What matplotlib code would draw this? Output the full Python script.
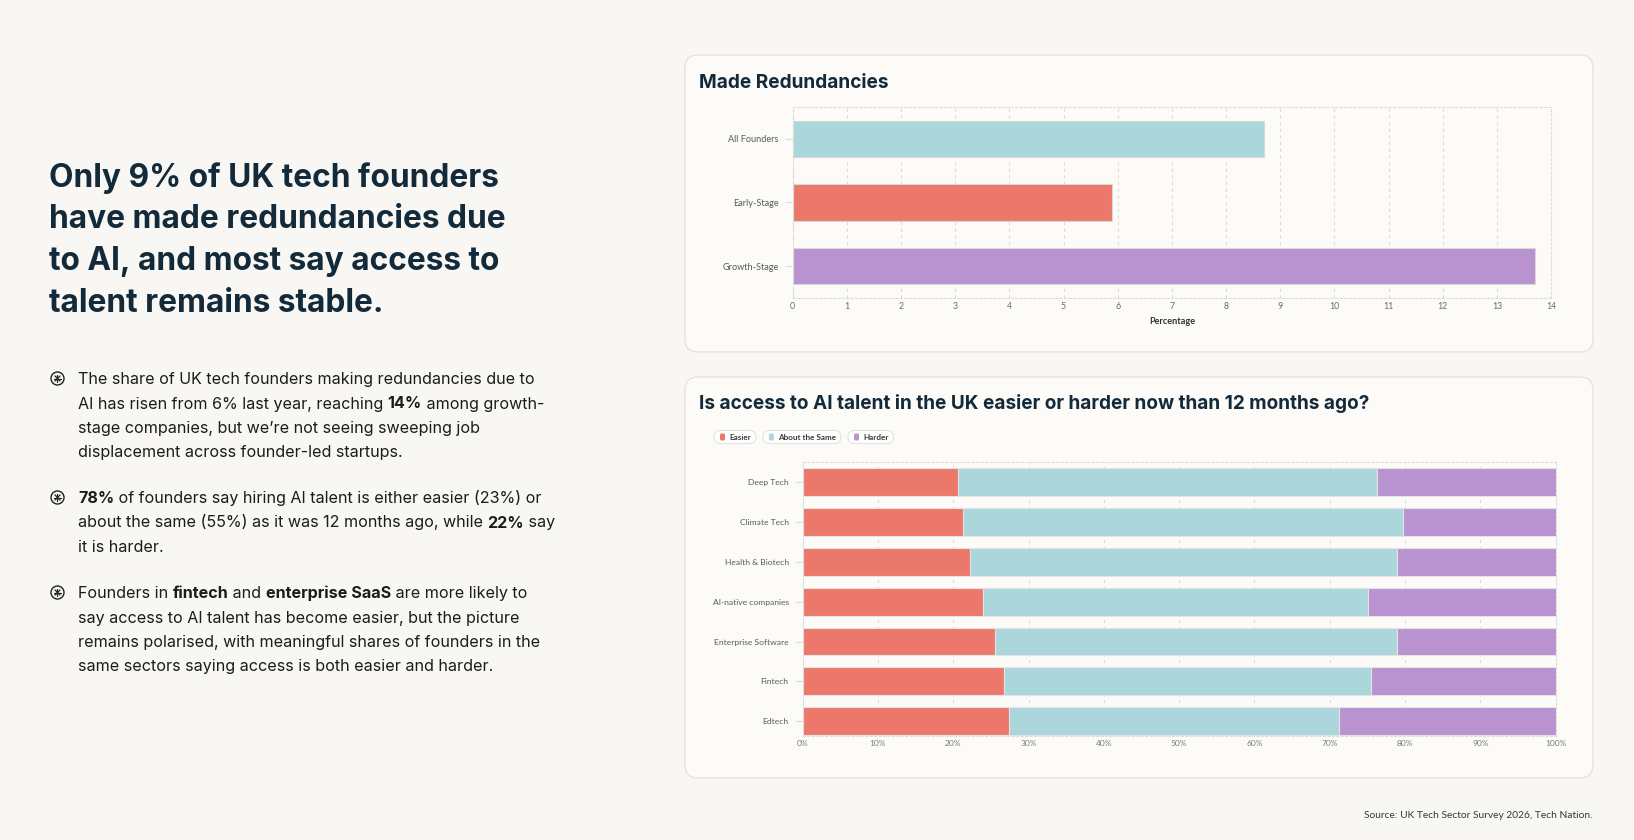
import matplotlib
matplotlib.use("Agg")
import matplotlib.pyplot as plt
from matplotlib.patches import FancyBboxPatch, Circle
import numpy as np

# ---------------- data ----------------
redund_labels = ["All Founders", "Early-Stage", "Growth-Stage"]
redund_values = [8.7, 5.9, 13.7]
redund_ticks = list(range(0, 15))

sectors = ["Deep Tech", "Climate Tech", "Health & Biotech", "AI-native companies",
           "Enterprise Software", "Fintech", "Edtech"]
easier = [20.7, 21.3, 22.2, 23.9, 25.5, 26.7, 27.4]
same = [55.6, 58.4, 56.7, 51.2, 53.5, 48.8, 43.8]
harder = [23.7, 20.3, 21.1, 24.9, 21.0, 24.5, 28.8]
series_names = ["Easier", "About the Same", "Harder"]
pct_ticks = list(range(0, 101, 10))

heading = ["Only 9% of UK tech founders",
           "have made redundancies due",
           "to AI, and most say access to",
           "talent remains stable."]
bullets = [
    ["The share of UK tech founders making redundancies due to",
     "AI has risen from 6% last year, reaching **14%** among growth-",
     "stage companies, but we\u2019re not seeing sweeping job",
     "displacement across founder-led startups."],
    ["**78%** of founders say hiring AI talent is either easier (23%) or",
     "about the same (55%) as it was 12 months ago, while **22%** say",
     "it is harder."],
    ["Founders in **fintech** and **enterprise SaaS** are more likely to",
     "say access to AI talent has become easier, but the picture",
     "remains polarised, with meaningful shares of founders in the",
     "same sectors saying access is both easier and harder."],
]
source = "Source: UK Tech Sector Survey 2026, Tech Nation."

# ---------------- style ----------------
RED = "#EC786C"
BLUE = "#AAD6DC"
PURPLE = "#B893D0"
series_colors = [RED, BLUE, PURPLE]
NAVY = "#132A3B"
PAGE = "#F8F7F3"
CARD = "#FCFBF8"
GRID = "#DEDCD8"
SMALL = ["Lato", "DejaVu Sans"]
BIG = ["Inter", "DejaVu Sans"]
plt.rcParams["font.family"] = SMALL

W, H = 1634, 840
fig = plt.figure(figsize=(W / 100, H / 100), dpi=100, facecolor=PAGE)

bg = fig.add_axes([0, 0, 1, 1], zorder=0)
bg.set_xlim(0, W)
bg.set_ylim(H, 0)
bg.axis("off")


def px_rect(x0, y0, x1, y1):
    return [x0 / W, 1 - y1 / H, (x1 - x0) / W, (y1 - y0) / H]


# cards
for (x0, y0, x1, y1) in [(685, 55, 1593, 352), (685, 377, 1593, 778)]:
    bg.add_patch(FancyBboxPatch((x0, y0), x1 - x0, y1 - y0,
                                boxstyle="round,pad=0,rounding_size=13",
                                facecolor=CARD, edgecolor="#E6E3DC", lw=1.0))

# heading
for i, line in enumerate(heading):
    bg.text(49, 187 + i * 41.5, line, fontsize=22.8, fontweight="bold",
            color=NAVY, va="baseline", ha="left", family=BIG)

renderer = fig.canvas.get_renderer()


def rich_line(x, y, s, size, color):
    parts = s.split("**")
    for k, part in enumerate(parts):
        if not part:
            continue
        t = bg.text(x, y, part, fontsize=size,
                    fontweight="bold" if k % 2 == 1 else "normal",
                    color=color, va="baseline", ha="left", family=BIG)
        x += t.get_window_extent(renderer=renderer).width


para_starts = [384, 503, 598]
LS = 24.5
for p, lines in enumerate(bullets):
    y0 = para_starts[p]
    cx, cy = 57.5, y0 - 5.5
    bg.add_patch(Circle((cx, cy), 6.5, facecolor="none", edgecolor="#222222", lw=1.0))
    for ang in np.arange(0, 180, 45):
        a = np.deg2rad(ang)
        dx, dy = 3.6 * np.cos(a), 3.6 * np.sin(a)
        bg.plot([cx - dx, cx + dx], [cy - dy, cy + dy], color="#222222", lw=0.9,
                solid_capstyle="round")
    for i, line in enumerate(lines):
        rich_line(78, y0 + i * LS, line, 11.6, "#1C1C1C")

# source
bg.text(1593, 816, source, fontsize=7.4, color="#2E3A46", ha="right", va="center")

# card titles
bg.text(699, 87.5, "Made Redundancies", fontsize=13.7, fontweight="bold", color=NAVY,
        va="baseline", ha="left", family=BIG)
bg.text(699, 409, "Is access to AI talent in the UK easier or harder now than 12 months ago?",
        fontsize=13.7, fontweight="bold", color=NAVY, va="baseline", ha="left", family=BIG)


def style_axes(ax):
    ax.set_facecolor("none")
    for sp in ax.spines.values():
        sp.set_linestyle((0, (2, 2)))
        sp.set_color(GRID)
        sp.set_linewidth(0.8)
    ax.grid(axis="x", linestyle=(0, (3, 3)), color=GRID, lw=0.8)
    ax.set_axisbelow(True)
    ax.tick_params(axis="x", length=0, pad=3, labelsize=6.3, labelcolor="#6A6A6A")
    ax.tick_params(axis="y", length=6, width=0.8, color=GRID, pad=4,
                   labelsize=6.6, labelcolor="#5A5A5A")


# ---------------- chart 1 ----------------
ax1 = fig.add_axes(px_rect(792.7, 106.7, 1551, 298.3), zorder=2)
style_axes(ax1)
ypos = np.arange(len(redund_labels))
ax1.barh(ypos, redund_values, height=0.565, color=[BLUE, RED, PURPLE],
         edgecolor="#D8D8D8", linewidth=0.8)
ax1.set_xlim(0, 14)
ax1.set_ylim(2.5, -0.5)
ax1.set_xticks(redund_ticks)
ax1.set_yticks(ypos)
ax1.set_yticklabels(redund_labels)
ax1.set_xlabel("Percentage", fontsize=6.6, fontweight="bold", color="#333333", labelpad=4)

# ---------------- chart 2 ----------------
ax2 = fig.add_axes(px_rect(802.6, 461.7, 1555.6, 735.7), zorder=2)
style_axes(ax2)
ypos2 = np.arange(len(sectors))
left = np.zeros(len(sectors))
for vals, col, name in zip([easier, same, harder], series_colors, series_names):
    ax2.barh(ypos2, vals, left=left, height=0.70, color=col, edgecolor="#E4E4E4",
             linewidth=0.8, label=name)
    left = left + np.array(vals)
ax2.set_xlim(0, 100)
ax2.set_ylim(6.364, -0.515)
ax2.set_xticks(pct_ticks)
ax2.set_xticklabels([f"{v}%" for v in pct_ticks])
ax2.set_yticks(ypos2)
ax2.set_yticklabels(sectors)
ax2.tick_params(axis="x", labelsize=6.0, labelcolor="#7A7A7A")
ax2.tick_params(axis="y", labelsize=6.1)

# legend pills
lx = 714
for name, col in zip(series_names, series_colors):
    t = bg.text(lx + 15, 437, name, fontsize=5.9, fontweight="bold", color="#3A3A3A",
                va="center", ha="left")
    tw = t.get_window_extent(renderer=renderer).width
    pw = tw + 20
    bg.add_patch(FancyBboxPatch((lx, 430.5), pw, 13, boxstyle="round,pad=0,rounding_size=6.5",
                                facecolor="#FFFFFF", edgecolor="#E4E2DD", lw=0.8))
    bg.add_patch(FancyBboxPatch((lx + 6, 433.5), 5, 7, boxstyle="round,pad=0,rounding_size=1.5",
                                facecolor=col, edgecolor="none"))
    lx += pw + 7

fig.savefig("out.png", dpi=100, facecolor=PAGE)
